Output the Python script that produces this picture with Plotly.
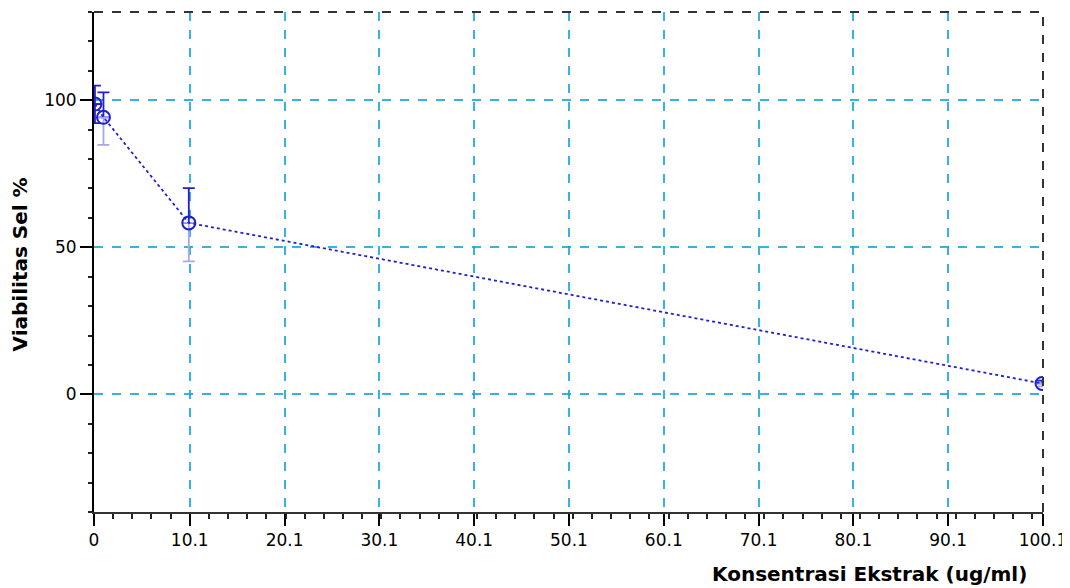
import plotly.graph_objects as go

# Data
conc = [0.1, 1, 10, 100]
viab = [98.7, 94.2, 58.3, 3.7]
err_plus = [6.3, 8.5, 11.8, 1.0]
err_minus = [6.5, 9.4, 13.1, 1.0]

x_tickvals = [0, 10.1, 20.1, 30.1, 40.1, 50.1, 60.1, 70.1, 80.1, 90.1, 100.1]
x_ticktext = ["0", "10.1", "20.1", "30.1", "40.1", "50.1", "60.1", "70.1", "80.1", "90.1", "100.1"]
y_tickvals = [0, 50, 100]
y_ticktext = ["0", "50", "100"]

x_title = "Konsentrasi Ekstrak (ug/ml)"
y_title = "Viabilitas Sel %"

FONT = "DejaVu Sans, Liberation Sans, Arial, sans-serif"
DARK = "#2020d0"
LIGHT = "#a8a8e8"
GRID = "rgba(20,165,225,0.85)"

fig = go.Figure()

# upper error bars (dark)
fig.add_trace(go.Scatter(
    x=conc, y=viab, mode="markers", marker=dict(size=1, color="rgba(0,0,0,0)"),
    error_y=dict(type="data", array=err_plus, arrayminus=[0] * len(conc), symmetric=False,
                 color=DARK, thickness=1.8, width=6),
    showlegend=False, hoverinfo="skip"))
# lower error bar of first point (dark)
fig.add_trace(go.Scatter(
    x=conc[:1], y=viab[:1], mode="markers", marker=dict(size=1, color="rgba(0,0,0,0)"),
    error_y=dict(type="data", array=[0], arrayminus=err_minus[:1], symmetric=False,
                 color=DARK, thickness=1.8, width=6),
    showlegend=False, hoverinfo="skip"))
# lower error bars of remaining points (light)
fig.add_trace(go.Scatter(
    x=conc[1:], y=viab[1:], mode="markers", marker=dict(size=1, color="rgba(0,0,0,0)"),
    error_y=dict(type="data", array=[0] * (len(conc) - 1), arrayminus=err_minus[1:], symmetric=False,
                 color=LIGHT, thickness=1.8, width=6),
    showlegend=False, hoverinfo="skip"))

# main line + markers
fig.add_trace(go.Scatter(
    x=conc, y=viab, mode="lines+markers",
    line=dict(color=DARK, width=1.8, dash="dot"),
    marker=dict(symbol="circle-open", size=13, color=DARK, line=dict(width=2, color=DARK)),
    showlegend=False))

fig.update_layout(
    width=1062, height=580,
    margin=dict(l=86, r=27, t=4, b=76),
    plot_bgcolor="white", paper_bgcolor="white",
    font=dict(family=FONT, size=17, color="black"),
    xaxis=dict(
        range=[0, 100.1], tickmode="array", tickvals=x_tickvals, ticktext=x_ticktext,
        showgrid=True, gridcolor=GRID, griddash="dash", gridwidth=2,
        zeroline=False, showline=True, linecolor="#333333", linewidth=2,
        ticks="outside", ticklen=12, tickwidth=2, tickcolor="black",
        minor=dict(tick0=0, dtick=2.02, ticks="outside", ticklen=5, tickwidth=2, tickcolor="#222222", showgrid=False),
        tickfont=dict(size=17),
    ),
    yaxis=dict(
        range=[-40, 130], tickmode="array", tickvals=y_tickvals, ticktext=y_ticktext,
        showgrid=True, gridcolor=GRID, griddash="dash", gridwidth=2,
        zeroline=False, showline=True, linecolor="black", linewidth=2,
        ticks="outside", ticklen=12, tickwidth=2, tickcolor="black",
        minor=dict(tick0=0, dtick=10, ticks="outside", ticklen=4, tickwidth=2, tickcolor="#222222", showgrid=False),
        tickfont=dict(size=17),
    ),
    shapes=[
        dict(type="line", xref="paper", yref="paper", x0=0, x1=1, y0=1, y1=1,
             line=dict(color="#333333", width=2, dash="dash")),
        dict(type="line", xref="paper", yref="paper", x0=1, x1=1, y0=0, y1=1,
             line=dict(color="#333333", width=2, dash="dash")),
    ],
    annotations=[
        dict(text="<b>" + x_title + "</b>", xref="paper", yref="paper", x=0.985, y=-0.124,
             xanchor="right", yanchor="middle", showarrow=False, font=dict(size=20)),
        dict(text="<b>" + y_title + "</b>", xref="paper", yref="paper", x=-0.078, y=0.495,
             xanchor="center", yanchor="middle", textangle=-90, showarrow=False, font=dict(size=20)),
    ],
)

fig.write_html("out.html")
